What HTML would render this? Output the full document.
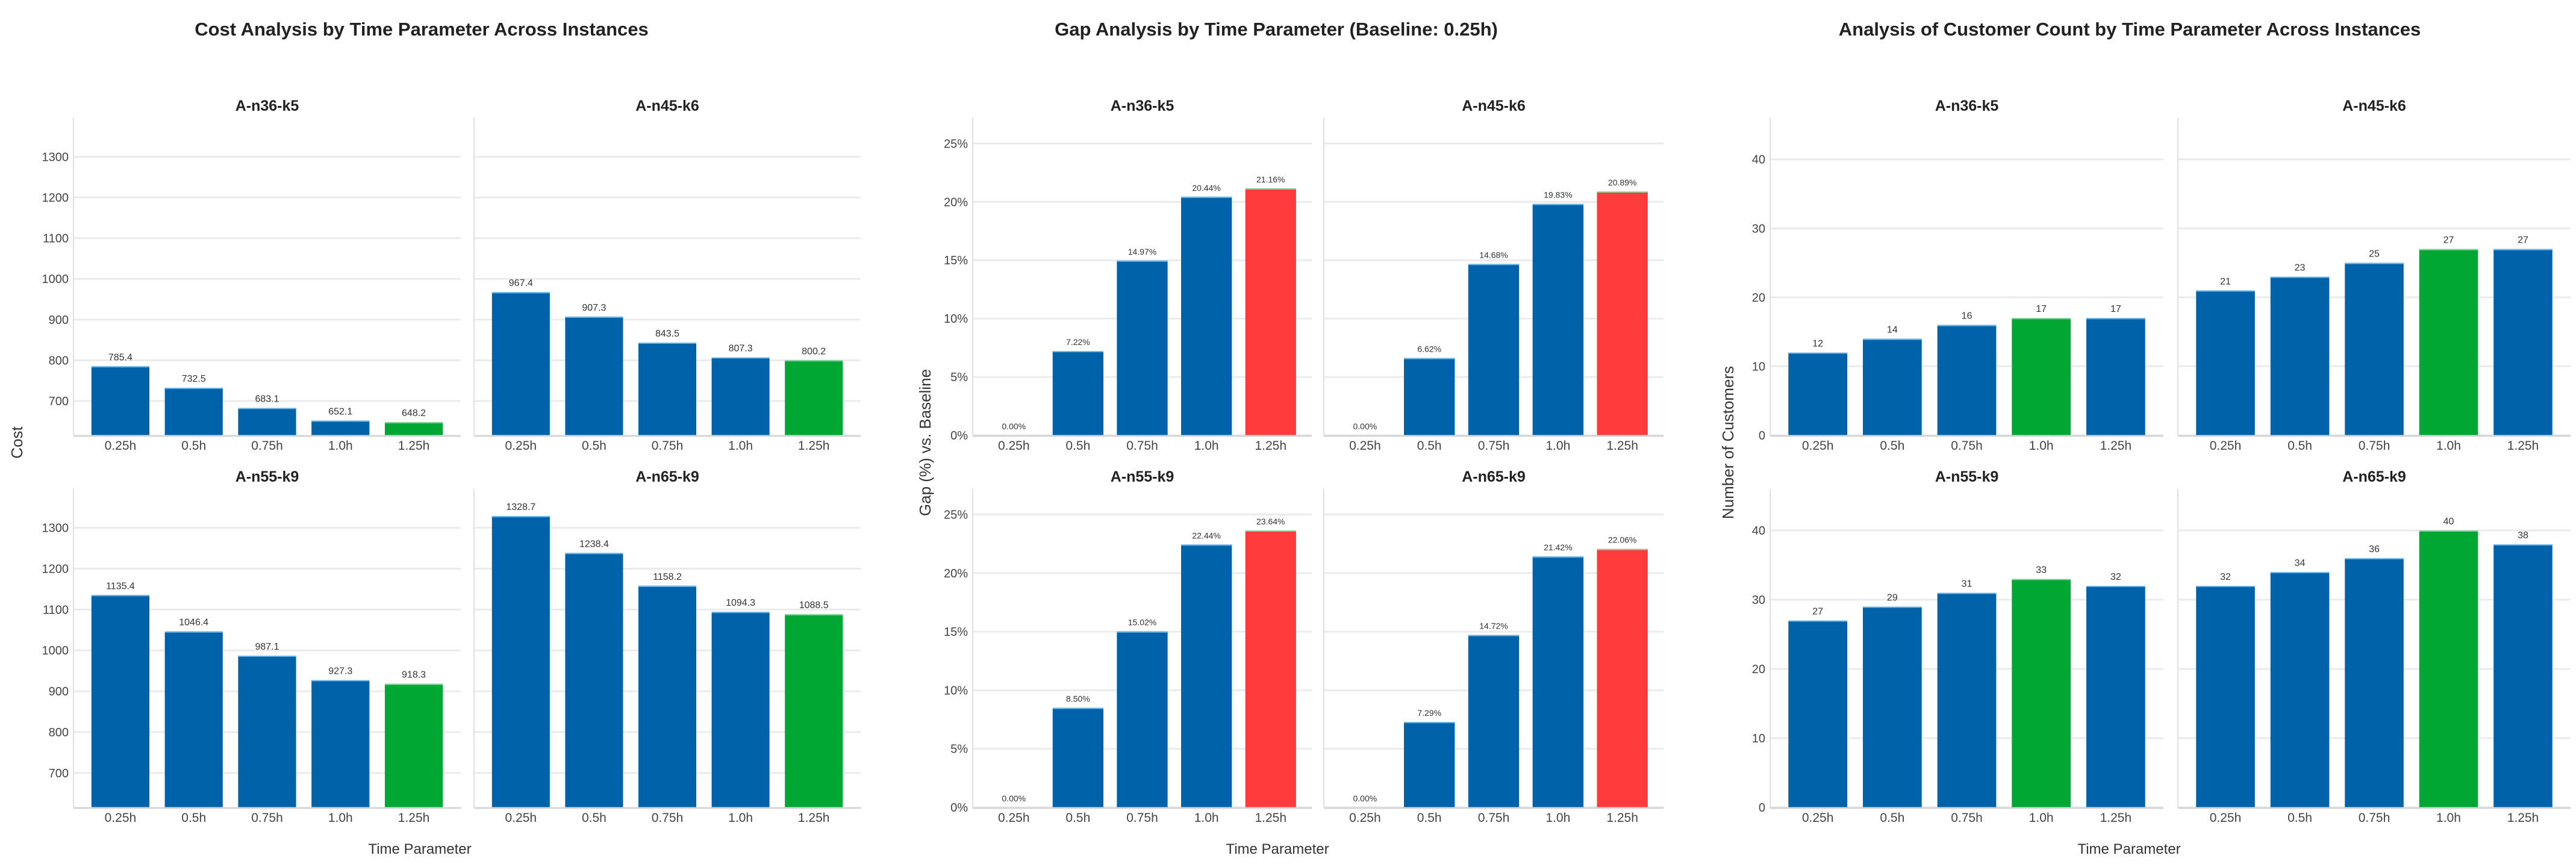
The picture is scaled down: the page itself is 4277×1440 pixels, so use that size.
<!DOCTYPE html>
<html><head><meta charset="utf-8"><style>
html,body{margin:0;padding:0;background:#fff}
svg{display:block;font-family:"Liberation Sans",Arial,sans-serif}
</style></head><body>
<svg id="chart" width="4277" height="1440" viewBox="0 0 4277 1440" xmlns="http://www.w3.org/2000/svg"></svg>
<script>
const categories = ["0.25h","0.5h","0.75h","1.0h","1.25h"];
const instances = ["A-n36-k5","A-n45-k6","A-n55-k9","A-n65-k9"];
const costN36 = [785.4,732.5,683.1,652.1,648.2];
const costN45 = [967.4,907.3,843.5,807.3,800.2];
const costN55 = [1135.4,1046.4,987.1,927.3,918.3];
const costN65 = [1328.7,1238.4,1158.2,1094.3,1088.5];
const gapN36 = [0.00,7.22,14.97,20.44,21.16];
const gapN45 = [0.00,6.62,14.68,19.83,20.89];
const gapN55 = [0.00,8.50,15.02,22.44,23.64];
const gapN65 = [0.00,7.29,14.72,21.42,22.06];
const custN36 = [12,14,16,17,17];
const custN45 = [21,23,25,27,27];
const custN55 = [27,29,31,33,32];
const custN65 = [32,34,36,40,38];
const costTicks = [700,800,900,1000,1100,1200,1300];
const gapTicks = [0,5,10,15,20,25];
const custTicks = [0,10,20,30,40];

const NS="http://www.w3.org/2000/svg";
const svg=document.getElementById('chart');
function mk(tag,attrs,parent){const e=document.createElementNS(NS,tag);for(const k in attrs)e.setAttribute(k,attrs[k]);(parent||svg).appendChild(e);return e;}
function txt(s,attrs,parent){const e=mk('text',attrs,parent);e.textContent=s;return e;}

const BLUE="#0062a8",GREEN="#00a833",RED="#ff3b3b";
const rows=[[196,723],[812,1341]];

function drawPanel(g,x0,x1,y0,y1,vals,ymin,ymax,ticks,tickFmt,valFmt,hiColor,hiIdx,valSize,showY,name){
  const pg=mk('g',{},g);
  
  
  const ys=v=>y1-(v-ymin)/(ymax-ymin)*(y1-y0);
  const sp=(x1-x0)/(categories.length-1+1.28);
  const xs=i=>x0+(i+0.64)*sp;
  const bw=sp*0.79;
  ticks.forEach(t=>{
    const gl=mk('line',{x1:x0,x2:x1,y1:ys(t),y2:ys(t),stroke:"#ebebeb","stroke-width":3},pg);
    
    
    if(showY){
      const tl=txt(tickFmt(t),{x:x0-8,y:ys(t)+7,"text-anchor":"end","font-size":20,fill:"#444"},pg);
      
      
    }
  });
  mk('line',{x1:x0,x2:x0,y1:y0,y2:y1,stroke:"#e0e0e0","stroke-width":2},pg);
  vals.forEach((v,i)=>{
    const col=i===hiIdx?hiColor:BLUE;
    const top=ys(v);
    const r=mk('rect',{x:xs(i)-bw/2,y:top,width:bw,height:Math.max(0,y1-top),fill:col},pg);
    
    
    if(y1-top>1) mk('line',{x1:xs(i)-bw/2,x2:xs(i)+bw/2,y1:top+1,y2:top+1,stroke:i===hiIdx?"#7fd39a":"#6cb6ea","stroke-width":2},pg);
    const vl=txt(valFmt(v),{x:xs(i),y:top-10,"text-anchor":"middle","font-size":valSize,fill:"#333"},pg);
    
    
    const xl=txt(categories[i],{x:xs(i),y:y1+24,"text-anchor":"middle","font-size":21,fill:"#444"},pg);
    
    
  });
  mk('line',{x1:x0,x2:x1,y1:y1+1,y2:y1+1,stroke:"#d5d5d5","stroke-width":3},pg);
}

function argmin(a){let k=0;a.forEach((v,i)=>{if(v<a[k])k=i});return k;}
function argmax(a){let k=0;a.forEach((v,i)=>{if(v>a[k])k=i});return k;}

function drawChart(cfg){
  const g=mk('g',{});
  
  
  const t=txt(cfg.title,{x:cfg.tx,y:59,"text-anchor":"middle","font-size":31,"font-weight":"bold",fill:"#222"},g);
  
  
  cfg.series.forEach((vals,k)=>{
    const col=k%2, row=Math.floor(k/2);
    const [x0,x1]=cfg.cols[col];
    const [y0,y1]=rows[row];
    const st=txt(instances[k],{x:(x0+x1)/2,y:row?800:184,"text-anchor":"middle","font-size":25,"font-weight":"bold",fill:"#222"},g);
    
    
    drawPanel(g,x0,x1,y0,y1,vals,cfg.ymin,cfg.ymax,cfg.ticks,cfg.tickFmt,cfg.valFmt,cfg.hiColor,cfg.hi(vals),cfg.valSize,col===0,'panel-'+instances[k]);
  });
  const xl=txt("Time Parameter",{x:cfg.xlx,y:1418,"text-anchor":"middle","font-size":24,fill:"#333"},g);
  
  
  const yl=txt(cfg.ylabel,{x:0,y:0,"text-anchor":"middle","font-size":26,fill:"#333",transform:`translate(${cfg.ylx},735) rotate(-90)`},g);
  
  
}

const allCost=[].concat(costN36,costN45,costN55,costN65);
drawChart({name:'cost-chart',title:"Cost Analysis by Time Parameter Across Instances",tx:700,
  cols:[[122,765],[787,1429]],series:[costN36,costN45,costN55,costN65],
  ymin:Math.min(...allCost)*0.95,ymax:Math.max(...allCost)*1.05,ticks:costTicks,
  tickFmt:t=>String(t),valFmt:v=>v.toFixed(1),hiColor:GREEN,hi:argmin,valSize:16,
  xlx:697,ylabel:"Cost",ylx:37});
const allGap=[].concat(gapN36,gapN45,gapN55,gapN65);
drawChart({name:'gap-chart',title:"Gap Analysis by Time Parameter (Baseline: 0.25h)",tx:2119,
  cols:[[1615,2178],[2198,2762]],series:[gapN36,gapN45,gapN55,gapN65],
  ymin:0,ymax:Math.max(...allGap)*1.15,ticks:gapTicks,
  tickFmt:t=>t+"%",valFmt:v=>v.toFixed(2)+"%",hiColor:RED,hi:argmax,valSize:14,
  xlx:2121,ylabel:"Gap (%) vs. Baseline",ylx:1545});
const allCust=[].concat(custN36,custN45,custN55,custN65);
drawChart({name:'customer-chart',title:"Analysis of Customer Count by Time Parameter Across Instances",tx:3536,
  cols:[[2939,3592],[3616,4268]],series:[custN36,custN45,custN55,custN65],
  ymin:0,ymax:Math.max(...allCust)*1.15,ticks:custTicks,
  tickFmt:t=>String(t),valFmt:v=>String(v),hiColor:GREEN,
  hi:a=>{const e=[custN36,custN45,custN55,custN65].indexOf(a);return [3,3,3,3][e];},valSize:16,
  xlx:3535,ylabel:"Number of Customers",ylx:2878});
</script>
</body></html>
